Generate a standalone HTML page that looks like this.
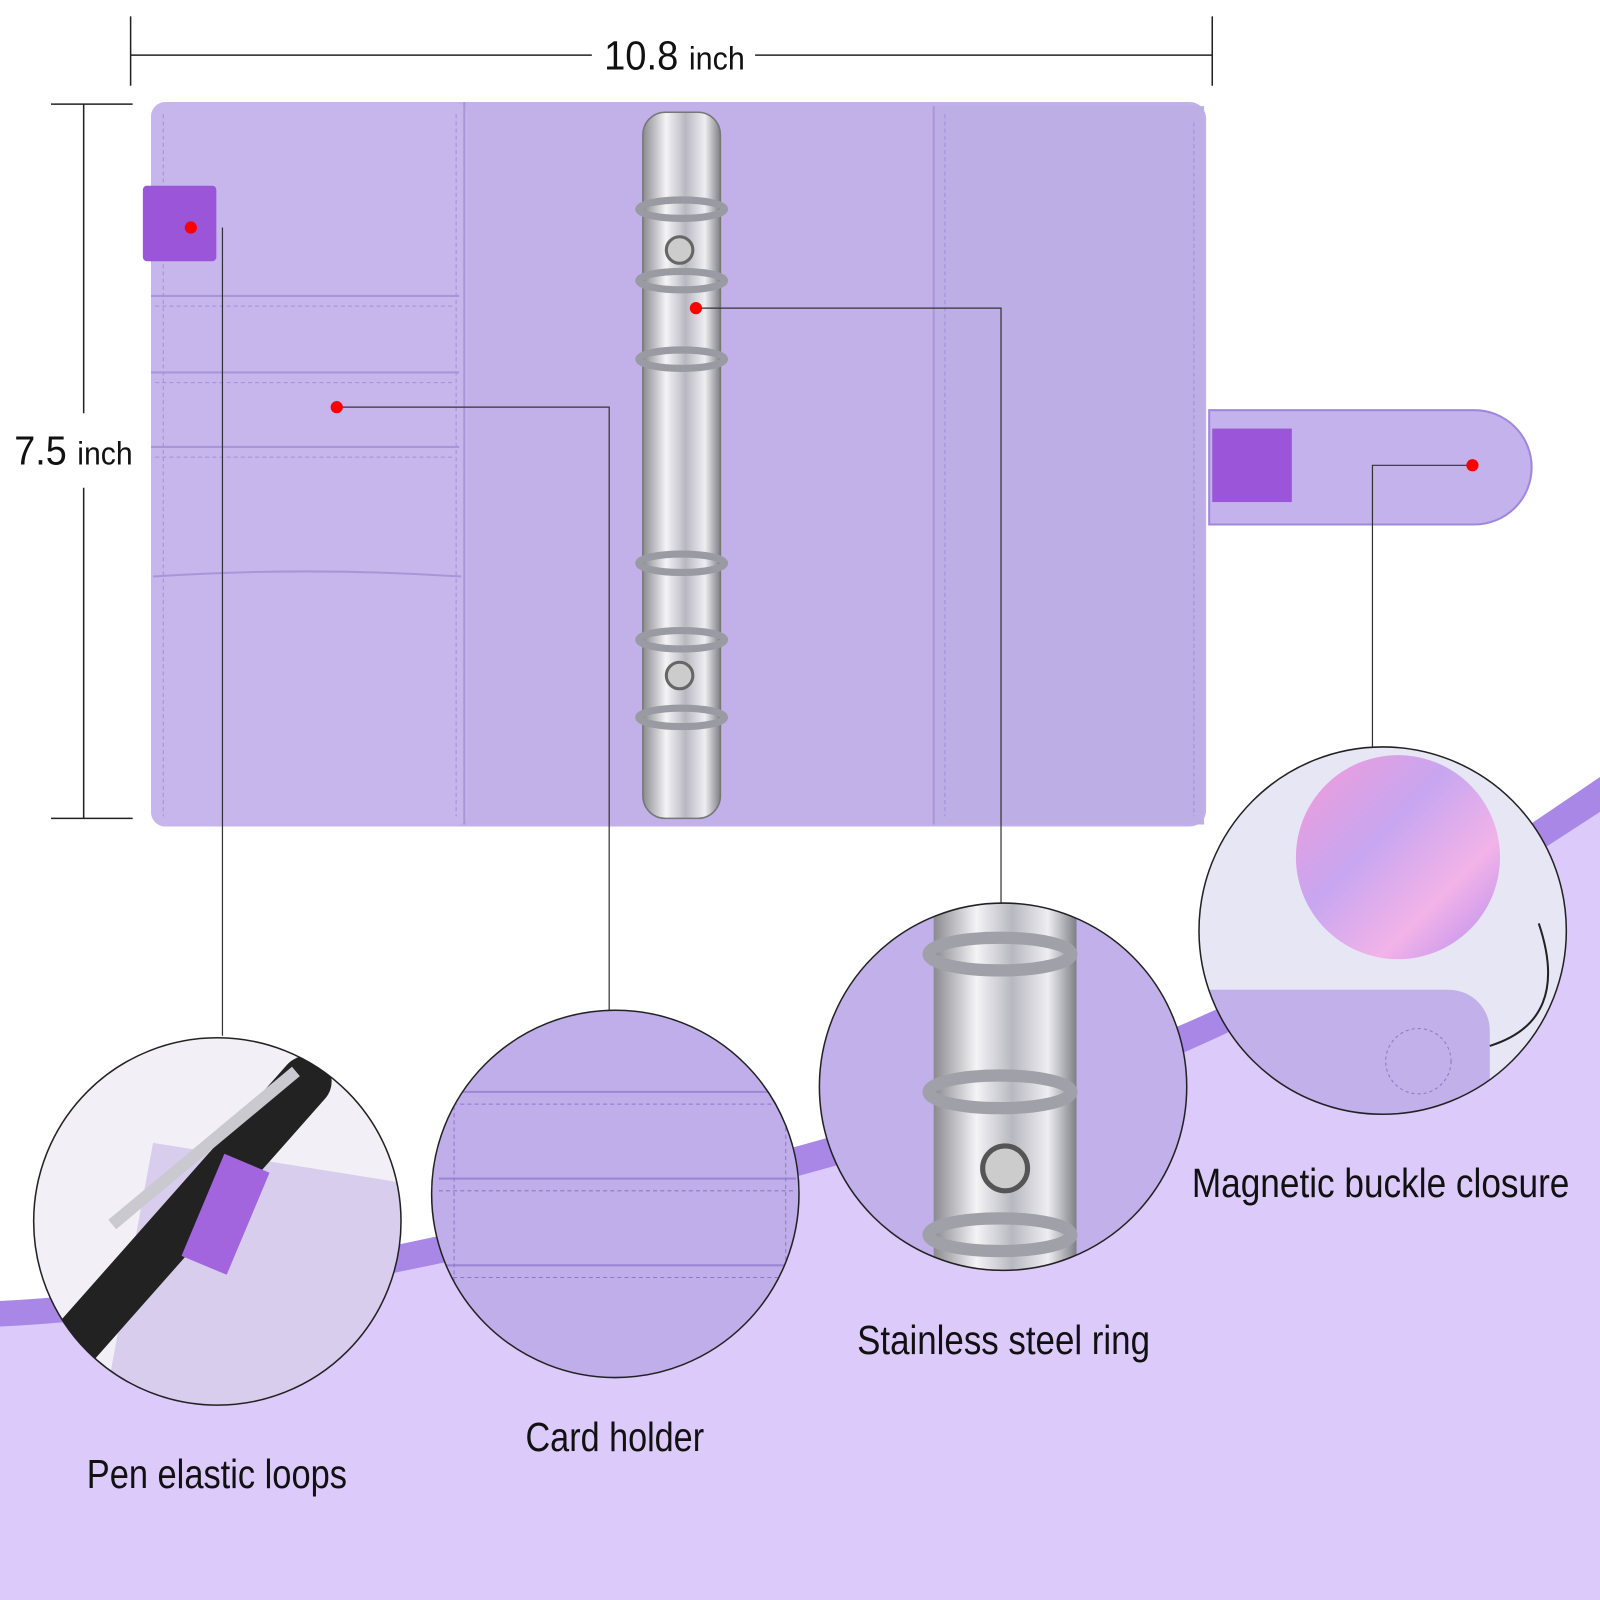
<!DOCTYPE html>
<html><head><meta charset="utf-8"><style>
html,body{margin:0;padding:0;background:#fff}
svg{display:block}
text{font-family:"Liberation Sans",sans-serif;fill:#111}
</style></head><body>
<svg width="1600" height="1600" viewBox="0 0 1568 1568" xmlns="http://www.w3.org/2000/svg">
<defs>
<linearGradient id="sil" x1="0" x2="1">
<stop offset="0" stop-color="#8a8a90"/><stop offset="0.3" stop-color="#f4f4f6"/><stop offset="0.55" stop-color="#b8b8c0"/><stop offset="0.8" stop-color="#eeeef2"/><stop offset="1" stop-color="#7e7e86"/>
</linearGradient>
<linearGradient id="rain" x1="0" x2="1" y1="0" y2="1">
<stop offset="0" stop-color="#f59bd8"/><stop offset="0.4" stop-color="#c7a6f0"/><stop offset="0.7" stop-color="#f2b3e8"/><stop offset="1" stop-color="#b68cf0"/>
</linearGradient>
<clipPath id="c1"><circle cx="213" cy="1197" r="180"/></clipPath>
<clipPath id="c2"><circle cx="603" cy="1170" r="180"/></clipPath>
<clipPath id="c3"><circle cx="983" cy="1065" r="180"/></clipPath>
<clipPath id="c4"><circle cx="1355" cy="912" r="180"/></clipPath>
</defs>
<path d="M0 1275 C300 1260 700 1150 1000 1060 C1250 990 1420 860 1600 740 L1600 1600 L0 1600Z" fill="#a887e6"/>
<path d="M0 1300 C300 1285 700 1180 1000 1090 C1250 1015 1420 890 1600 775 L1600 1600 L0 1600Z" fill="#dccafb"/>
<g stroke="#222" stroke-width="1.5">
<line x1="128" y1="16" x2="128" y2="84"/><line x1="1188" y1="16" x2="1188" y2="84"/>
<line x1="128" y1="54" x2="580" y2="54"/><line x1="740" y1="54" x2="1188" y2="54"/>
<line x1="50" y1="102" x2="130" y2="102"/><line x1="50" y1="802" x2="130" y2="802"/>
<line x1="82" y1="102" x2="82" y2="405"/><line x1="82" y1="478" x2="82" y2="802"/>
</g>
<text x="592" y="68" font-size="40" textLength="138" lengthAdjust="spacingAndGlyphs">10.8 <tspan font-size="32">inch</tspan></text>
<text x="14" y="455" font-size="40" textLength="116" lengthAdjust="spacingAndGlyphs">7.5 <tspan font-size="32">inch</tspan></text>
<rect x="148" y="100" width="1034" height="710" rx="16" fill="#c2b1e9"/>
<rect x="148" y="100" width="310" height="710" rx="14" fill="#c6b6ec"/>
<rect x="915" y="104" width="265" height="704" fill="#bdaee6"/>
<g stroke="#a996d8" stroke-width="2" fill="none">
<line x1="455" y1="100" x2="455" y2="808"/><line x1="915" y1="104" x2="915" y2="808"/>
<path d="M148 290 H450 M148 365 H450 M148 438 H450"/>
<path d="M150 565 Q300 555 452 565"/>
</g>
<g stroke="#a48fda" stroke-width="1" stroke-dasharray="4 3" fill="none">
<path d="M152 300 H446 M152 375 H446 M152 448 H446 M160 112 V800 M447 112 V800 M926 112 V800 M1170 120 V800"/>
</g>
<rect x="630" y="110" width="76" height="692" rx="22" fill="url(#sil)" stroke="#777" stroke-width="1.5"/>
<g fill="none" stroke="#9a9aa2" stroke-width="7">
<ellipse cx="668" cy="205" rx="42" ry="9"/><ellipse cx="668" cy="275" rx="42" ry="9"/><ellipse cx="668" cy="352" rx="42" ry="9"/>
<ellipse cx="668" cy="552" rx="42" ry="9"/><ellipse cx="668" cy="627" rx="42" ry="9"/><ellipse cx="668" cy="703" rx="42" ry="9"/>
</g>
<circle cx="666" cy="245" r="13" fill="#ccc" stroke="#666" stroke-width="3"/>
<circle cx="666" cy="662" r="13" fill="#ccc" stroke="#666" stroke-width="3"/>
<rect x="140" y="182" width="72" height="74" rx="4" fill="#9a55d8"/>
<path d="M1185 402 H1445 A56 56 0 0 1 1445 514 H1185 Z" fill="#c4b2ec" stroke="#9f88dc" stroke-width="2"/>
<rect x="1188" y="420" width="78" height="72" fill="#9a55d8"/>
<g stroke="#333" stroke-width="1.2" fill="none">
<path d="M218 223 V1015"/><path d="M330 399 H597 V990"/><path d="M682 302 H981 V885"/><path d="M1443 456 H1345 V733"/>
</g>
<g fill="#ff0000"><circle cx="187" cy="223" r="6"/><circle cx="330" cy="399" r="6"/><circle cx="682" cy="302" r="6"/><circle cx="1443" cy="456" r="6"/></g>
<g clip-path="url(#c1)">
<rect x="30" y="1010" width="370" height="380" fill="#f2f0f6"/>
<path d="M150 1120 L400 1160 L400 1390 L100 1390 Z" fill="#d9cdee"/>
<path d="M300 1060 L70 1320" stroke="#222" stroke-width="50" stroke-linecap="round"/>
<path d="M290 1050 L110 1200" stroke="#c9c9cf" stroke-width="12"/>
<path d="M242 1140 L200 1240" stroke="#a265de" stroke-width="48"/>
</g>
<circle cx="213" cy="1197" r="180" fill="none" stroke="#222" stroke-width="1.5"/>
<g clip-path="url(#c2)">
<rect x="420" y="985" width="370" height="370" fill="#c0aeea"/>
<g stroke="#9b86d4" stroke-width="2"><path d="M430 1070 H780 M430 1155 H780 M430 1240 H780"/></g>
<g stroke="#8d78c8" stroke-width="1" stroke-dasharray="4 3"><path d="M430 1082 H780 M430 1167 H780 M430 1252 H780 M445 1000 V1350 M770 1000 V1350"/></g>
</g>
<circle cx="603" cy="1170" r="180" fill="none" stroke="#222" stroke-width="1.5"/>
<g clip-path="url(#c3)">
<rect x="800" y="880" width="370" height="370" fill="#c2b0ea"/>
<rect x="915" y="880" width="140" height="370" fill="url(#sil)"/>
<g fill="none" stroke="#a0a0a8" stroke-width="12">
<ellipse cx="980" cy="935" rx="70" ry="16"/><ellipse cx="980" cy="1070" rx="70" ry="16"/><ellipse cx="980" cy="1210" rx="70" ry="16"/>
</g>
<circle cx="985" cy="1145" r="22" fill="#ccc" stroke="#555" stroke-width="5"/>
</g>
<circle cx="983" cy="1065" r="180" fill="none" stroke="#222" stroke-width="1.5"/>
<g clip-path="url(#c4)">
<rect x="1170" y="730" width="370" height="370" fill="#e6e6f4"/>
<circle cx="1370" cy="840" r="100" fill="url(#rain)"/>
<path d="M1180 970 H1420 A40 40 0 0 1 1460 1010 V1100 H1180Z" fill="#c2b0ea"/>
<circle cx="1390" cy="1040" r="32" fill="none" stroke="#8c78c4" stroke-dasharray="3 3"/>
<path d="M1460 1025 Q1540 1000 1508 905" fill="none" stroke="#222" stroke-width="2"/>
</g>
<circle cx="1355" cy="912" r="180" fill="none" stroke="#222" stroke-width="1.5"/>
<text x="85" y="1458" font-size="40" textLength="255" lengthAdjust="spacingAndGlyphs">Pen elastic loops</text>
<text x="515" y="1422" font-size="40" textLength="175" lengthAdjust="spacingAndGlyphs">Card holder</text>
<text x="840" y="1327" font-size="40" textLength="287" lengthAdjust="spacingAndGlyphs">Stainless steel ring</text>
<text x="1168" y="1173" font-size="40" textLength="370" lengthAdjust="spacingAndGlyphs">Magnetic buckle closure</text>
</svg>
</body></html>
